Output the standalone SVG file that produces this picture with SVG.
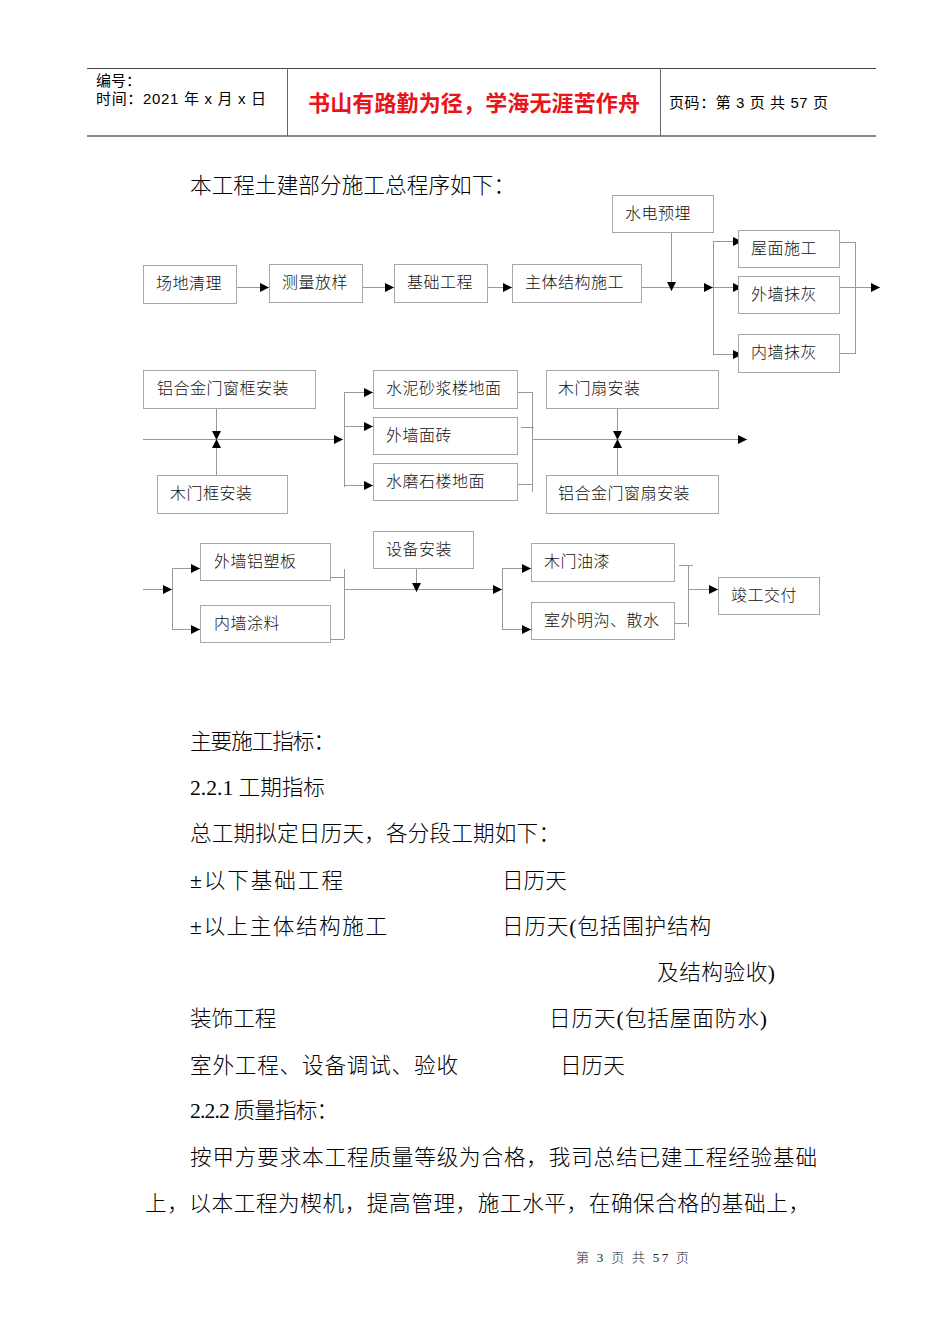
<svg xmlns="http://www.w3.org/2000/svg" width="950" height="1344" viewBox="0 0 950 1344">
<defs>
<style>
.hdr{font-family:"Liberation Sans","Noto Sans CJK SC",sans-serif;font-size:15px;fill:#000}
.red{font-family:"Liberation Sans","Noto Sans CJK SC",sans-serif;font-size:22px;font-weight:bold;fill:#e8141a}
.body{font-family:"Liberation Serif","Noto Sans CJK SC",serif;font-size:21.6px;fill:#000;font-weight:300}
.foot{font-family:"Liberation Serif","Noto Sans CJK SC",serif;font-size:13px;fill:#222;font-weight:300}
.box rect{fill:#fff;stroke:#a8a8a8;stroke-width:1}
.box text{font-family:"Liberation Serif","Noto Sans CJK SC",serif;font-size:16px;fill:#111;letter-spacing:0.5px;font-weight:300}
.c line{stroke:#999;stroke-width:1;fill:none}
.a{marker-end:url(#ah)}
</style>
<marker id="ah" markerWidth="9" markerHeight="9" refX="9" refY="4.5" orient="auto" markerUnits="userSpaceOnUse"><path d="M0,0L9,4.5L0,9z" fill="#000"/></marker>
</defs>
<rect width="950" height="1344" fill="#fff"/>
<g id="header">
<line x1="87" y1="68.5" x2="876" y2="68.5" stroke="#444" stroke-width="1"/>
<line x1="87" y1="136" x2="876" y2="136" stroke="#888" stroke-width="2"/>
<line x1="287.5" y1="68" x2="287.5" y2="136" stroke="#666" stroke-width="1"/>
<line x1="660.5" y1="68" x2="660.5" y2="136" stroke="#666" stroke-width="1"/>
<text class="hdr" x="96" y="86">编号：</text>
<text class="hdr" x="96" y="104" textLength="170">时间：2021 年 x 月 x 日</text>
<text class="red" x="308" y="111" textLength="332">书山有路勤为径，学海无涯苦作舟</text>
<text class="hdr" x="669" y="108" textLength="159">页码：第 3 页  共 57 页</text>
</g>
<text class="body" x="190" y="193" textLength="325">本工程土建部分施工总程序如下：</text>
<g class="c" id="connectors">
<line class="a" x1="236" y1="287.5" x2="269" y2="287.5"/>
<line class="a" x1="362" y1="287.5" x2="394" y2="287.5"/>
<line class="a" x1="487" y1="287.5" x2="512" y2="287.5"/>
<line class="a" x1="641" y1="287.5" x2="713" y2="287.5"/>
<line class="a" x1="671.5" y1="232" x2="671.5" y2="291"/>
<line x1="713.5" y1="241.5" x2="713.5" y2="354.5"/>
<line class="a" x1="713" y1="241.5" x2="742" y2="241.5"/>
<line class="a" x1="713" y1="287.5" x2="742" y2="287.5"/>
<line class="a" x1="713" y1="354.5" x2="742" y2="354.5"/>
<line x1="839" y1="242.5" x2="855" y2="242.5"/>
<line x1="839" y1="353.5" x2="855" y2="353.5"/>
<line x1="855.5" y1="242" x2="855.5" y2="354"/>
<line class="a" x1="839" y1="287.5" x2="880" y2="287.5"/>
<line class="a" x1="143" y1="439.5" x2="343" y2="439.5"/>
<line class="a" x1="216.5" y1="408" x2="216.5" y2="440"/>
<line class="a" x1="216.5" y1="475" x2="216.5" y2="439"/>
<line x1="344.5" y1="392" x2="344.5" y2="487"/>
<line class="a" x1="344" y1="392.5" x2="373" y2="392.5"/>
<line class="a" x1="344" y1="426.5" x2="373" y2="426.5"/>
<line class="a" x1="344" y1="485.5" x2="373" y2="485.5"/>
<line x1="517" y1="392.5" x2="532" y2="392.5"/>
<line x1="521" y1="427.5" x2="534" y2="427.5"/>
<line x1="517" y1="484.5" x2="532" y2="484.5"/>
<line x1="532.5" y1="392" x2="532.5" y2="492"/>
<line class="a" x1="532" y1="439.5" x2="747" y2="439.5"/>
<line class="a" x1="617.5" y1="408" x2="617.5" y2="440"/>
<line class="a" x1="617.5" y1="475" x2="617.5" y2="439"/>
<line class="a" x1="143" y1="589.5" x2="172" y2="589.5"/>
<line x1="172.5" y1="568" x2="172.5" y2="630"/>
<line class="a" x1="172" y1="568.5" x2="200" y2="568.5"/>
<line class="a" x1="172" y1="629.5" x2="200" y2="629.5"/>
<line x1="330" y1="577.5" x2="344" y2="577.5"/>
<line x1="330" y1="639.5" x2="344" y2="639.5"/>
<line x1="344.5" y1="569" x2="344.5" y2="639"/>
<line class="a" x1="344" y1="589.5" x2="502" y2="589.5"/>
<line class="a" x1="416.5" y1="568" x2="416.5" y2="592"/>
<line x1="502.5" y1="568" x2="502.5" y2="630"/>
<line class="a" x1="502" y1="568.5" x2="531" y2="568.5"/>
<line class="a" x1="502" y1="629.5" x2="531" y2="629.5"/>
<line x1="679" y1="565.5" x2="693" y2="565.5"/>
<line x1="671" y1="623.5" x2="687" y2="623.5"/>
<line x1="688.5" y1="565" x2="688.5" y2="627"/>
<line class="a" x1="688" y1="589.5" x2="718" y2="589.5"/>
</g>
<g class="box" id="n1"><rect x="143.5" y="265.5" width="93" height="38"/><text x="156" y="289">场地清理</text></g>
<g class="box" id="n2"><rect x="269.5" y="264.5" width="93" height="38"/><text x="282" y="288">测量放样</text></g>
<g class="box" id="n3"><rect x="394.5" y="264.5" width="93" height="38"/><text x="407" y="288">基础工程</text></g>
<g class="box" id="n4"><rect x="512.5" y="264.5" width="129" height="38"/><text x="525" y="288">主体结构施工</text></g>
<g class="box" id="n5"><rect x="612.5" y="195.5" width="101" height="37"/><text x="625" y="219">水电预埋</text></g>
<g class="box" id="n6"><rect x="738.5" y="230.5" width="101" height="37"/><text x="751" y="254">屋面施工</text></g>
<g class="box" id="n7"><rect x="738.5" y="276.5" width="101" height="37"/><text x="751" y="300">外墙抹灰</text></g>
<g class="box" id="n8"><rect x="738.5" y="334.5" width="101" height="38"/><text x="751" y="358">内墙抹灰</text></g>
<g class="box" id="n9"><rect x="143.5" y="370.5" width="172" height="38"/><text x="157" y="394">铝合金门窗框安装</text></g>
<g class="box" id="n10"><rect x="157.5" y="475.5" width="130" height="38"/><text x="170" y="499">木门框安装</text></g>
<g class="box" id="n11"><rect x="373.5" y="370.5" width="144" height="38"/><text x="386" y="394">水泥砂浆楼地面</text></g>
<g class="box" id="n12"><rect x="373.5" y="417.5" width="144" height="37"/><text x="386" y="441">外墙面砖</text></g>
<g class="box" id="n13"><rect x="373.5" y="463.5" width="144" height="37"/><text x="386" y="487">水磨石楼地面</text></g>
<g class="box" id="n14"><rect x="546.5" y="370.5" width="172" height="38"/><text x="558" y="394">木门扇安装</text></g>
<g class="box" id="n15"><rect x="546.5" y="475.5" width="172" height="38"/><text x="558" y="499">铝合金门窗扇安装</text></g>
<g class="box" id="n16"><rect x="200.5" y="543.5" width="130" height="37"/><text x="214" y="567">外墙铝塑板</text></g>
<g class="box" id="n17"><rect x="200.5" y="605.5" width="130" height="37"/><text x="214" y="629">内墙涂料</text></g>
<g class="box" id="n18"><rect x="373.5" y="531.5" width="100" height="37"/><text x="386" y="555">设备安装</text></g>
<g class="box" id="n19"><rect x="531.5" y="543.5" width="143" height="38"/><text x="544" y="567">木门油漆</text></g>
<g class="box" id="n20"><rect x="531.5" y="602.5" width="143" height="37"/><text x="544" y="626">室外明沟、散水</text></g>
<g class="box" id="n21"><rect x="718.5" y="577.5" width="101" height="37"/><text x="731" y="601">竣工交付</text></g>
<g id="text">
<text class="body" x="190" y="749" textLength="145">主要施工指标：</text>
<text class="body" x="190" y="795">2.2.1 工期指标</text>
<text class="body" x="190" y="841" textLength="370">总工期拟定日历天，各分段工期如下：</text>
<text class="body" x="190" y="888" textLength="153">±以下基础工程</text>
<text class="body" x="502" y="888">日历天</text>
<text class="body" x="190" y="934" textLength="197">±以上主体结构施工</text>
<text class="body" x="502" y="934" textLength="209">日历天(包括围护结构</text>
<text class="body" x="657" y="980" textLength="118">及结构验收)</text>
<text class="body" x="190" y="1026">装饰工程</text>
<text class="body" x="549" y="1026" textLength="218">日历天(包括屋面防水)</text>
<text class="body" x="190" y="1073" textLength="268">室外工程、设备调试、验收</text>
<text class="body" x="560" y="1073">日历天</text>
<text class="body" x="190" y="1118" textLength="148">2.2.2 质量指标：</text>
<text class="body" x="190" y="1165" textLength="627">按甲方要求本工程质量等级为合格，我司总结已建工程经验基础</text>
<text class="body" x="145" y="1211" textLength="665">上，以本工程为楔机，提高管理，施工水平，在确保合格的基础上，</text>
<text class="foot" x="576" y="1262" textLength="113" xml:space="preserve">第 3 页 共 57 页</text>
</g>
</svg>
